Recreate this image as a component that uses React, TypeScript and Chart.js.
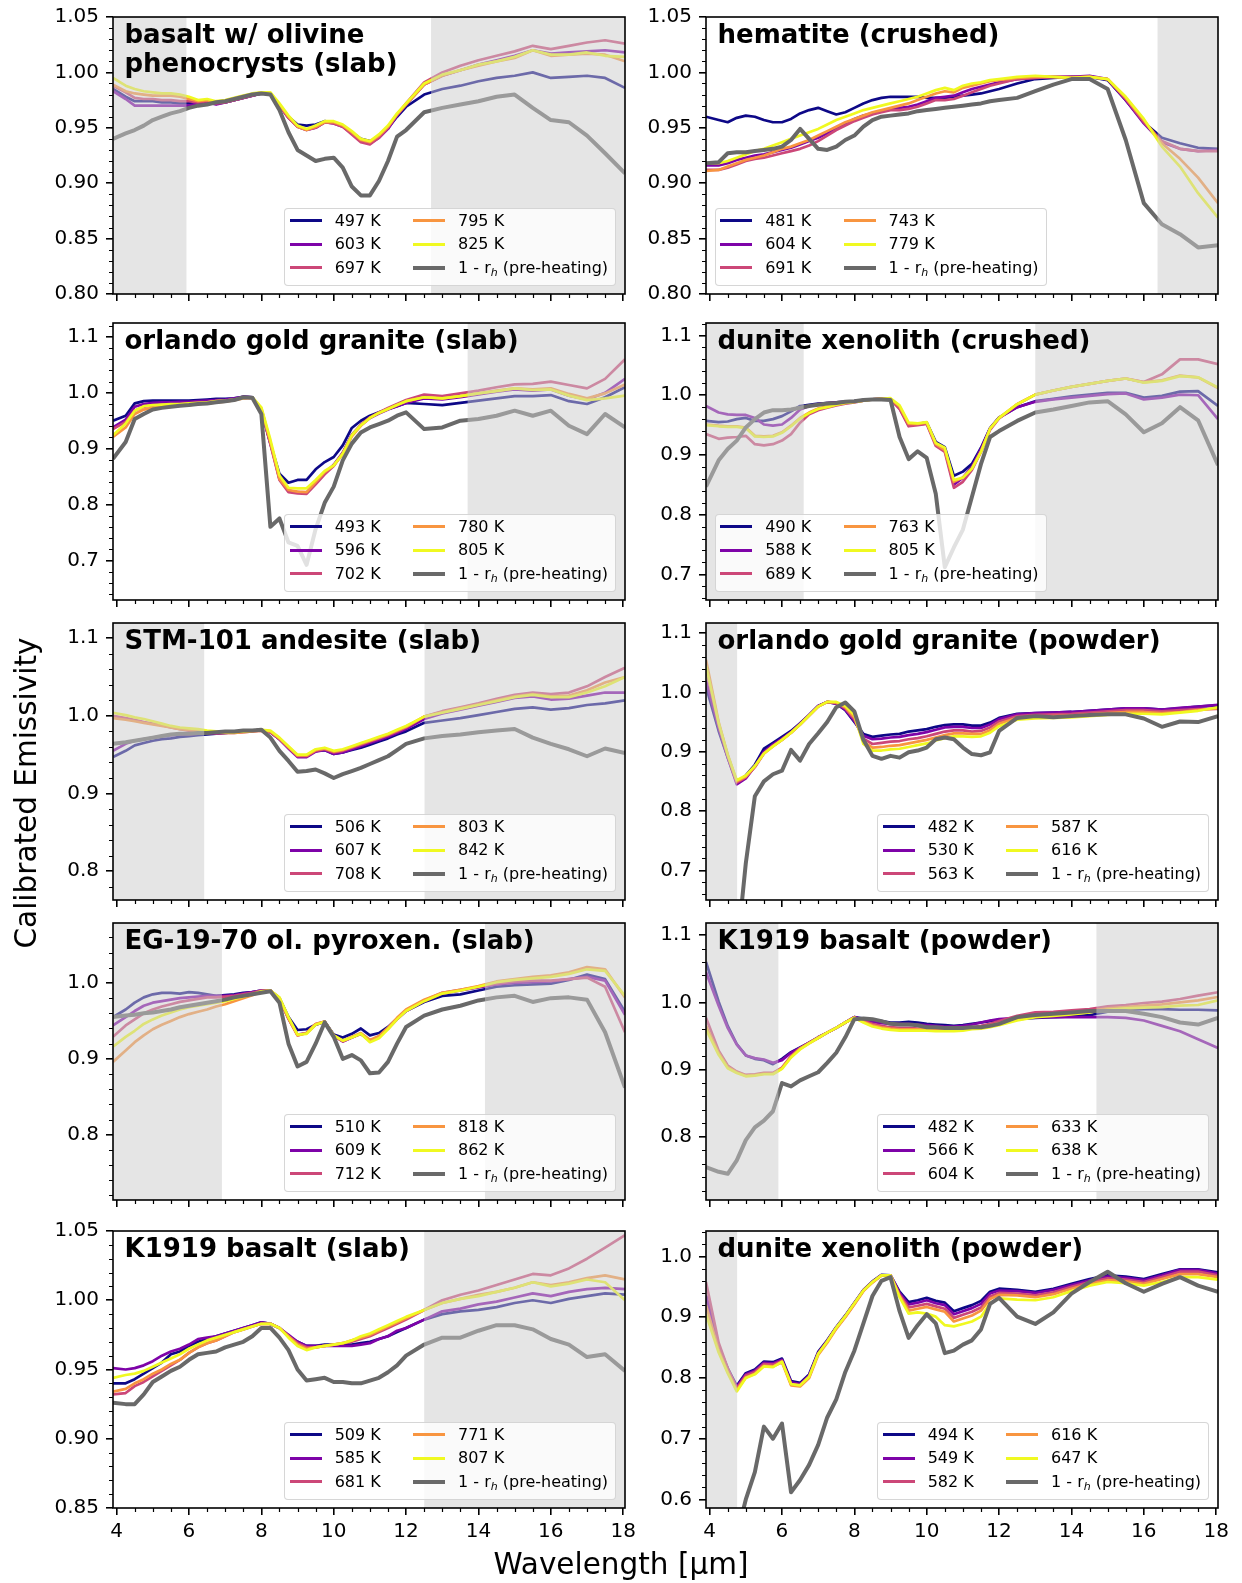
import React, { useEffect, useRef } from 'react';
import { Chart, registerables } from 'chart.js';

Chart.register(...registerables);

// ---------------- data ----------------
const WL = [
  3.9, 4.25, 4.5, 4.75, 5, 5.25, 5.5, 5.75, 6, 6.25, 6.5, 6.75,
  7, 7.25, 7.5, 7.75, 8, 8.25, 8.5, 8.75, 9, 9.25, 9.5, 9.75,
  10, 10.25, 10.5, 10.75, 11, 11.25, 11.5, 11.75, 12,
  12.5, 13, 13.5, 14, 14.5, 15, 15.5, 16, 16.5, 17, 17.5, 18.05,
];

const X_TICKS = [4, 6, 8, 10, 12, 14, 16, 18];
const Y_MAJOR_FINE = [0.8, 0.85, 0.9, 0.95, 1.0, 1.05];
const Y_MAJOR_COARSE = [0.6, 0.7, 0.8, 0.9, 1.0, 1.1];

// Panel 1: basalt w/ olivine phenocrysts (slab)
const BOL_TEMPS = ['497 K', '603 K', '697 K', '795 K', '825 K'];
const BOL_497 = [
  0.985, 0.978, 0.974, 0.974, 0.974, 0.973, 0.973, 0.972, 0.972, 0.973, 0.974, 0.972,
  0.973, 0.975, 0.977, 0.979, 0.981, 0.981, 0.970, 0.960, 0.953, 0.952, 0.953, 0.956,
  0.955, 0.952, 0.946, 0.940, 0.938, 0.942, 0.950, 0.960, 0.969,
  0.980, 0.985, 0.988, 0.992, 0.995, 0.997, 1.000, 0.995, 0.996, 0.997, 0.995, 0.986,
];
const BOL_603 = [
  0.983, 0.976, 0.970, 0.970, 0.970, 0.970, 0.970, 0.970, 0.970, 0.972, 0.973, 0.971,
  0.973, 0.975, 0.977, 0.979, 0.981, 0.981, 0.970, 0.959, 0.951, 0.948, 0.950, 0.955,
  0.954, 0.951, 0.945, 0.938, 0.936, 0.941, 0.949, 0.961, 0.971,
  0.989, 0.997, 1.002, 1.007, 1.011, 1.015, 1.020, 1.017, 1.018, 1.019, 1.020, 1.018,
];
const BOL_697 = [
  0.988, 0.982, 0.977, 0.976, 0.976, 0.975, 0.975, 0.974, 0.974, 0.973, 0.974, 0.972,
  0.973, 0.975, 0.977, 0.979, 0.981, 0.981, 0.970, 0.959, 0.951, 0.948, 0.950, 0.955,
  0.954, 0.951, 0.944, 0.937, 0.935, 0.941, 0.950, 0.962, 0.972,
  0.991, 1.000, 1.006, 1.011, 1.015, 1.019, 1.024, 1.021, 1.024, 1.027, 1.029, 1.026,
];
const BOL_795 = [
  0.989, 0.983, 0.981, 0.980, 0.979, 0.979, 0.979, 0.978, 0.976, 0.974, 0.975, 0.973,
  0.974, 0.976, 0.978, 0.980, 0.982, 0.981, 0.971, 0.960, 0.951, 0.948, 0.951, 0.955,
  0.955, 0.952, 0.946, 0.939, 0.937, 0.943, 0.951, 0.962, 0.971,
  0.989, 0.997, 1.002, 1.006, 1.010, 1.013, 1.020, 1.015, 1.016, 1.017, 1.016, 1.010,
];
const BOL_825 = [
  0.995, 0.988, 0.985, 0.983, 0.982, 0.981, 0.981, 0.980, 0.978, 0.975, 0.976, 0.974,
  0.975, 0.977, 0.979, 0.981, 0.982, 0.982, 0.972, 0.961, 0.952, 0.949, 0.952, 0.956,
  0.956, 0.953, 0.947, 0.940, 0.938, 0.944, 0.952, 0.963, 0.972,
  0.990, 0.998, 1.002, 1.007, 1.010, 1.014, 1.020, 1.016, 1.016, 1.018, 1.015, 1.014,
];
const BOL_GRAY = [
  0.940, 0.945, 0.948, 0.952, 0.957, 0.960, 0.963, 0.965, 0.968, 0.970, 0.971, 0.973,
  0.974, 0.976, 0.978, 0.980, 0.981, 0.980, 0.966, 0.946, 0.930, 0.925, 0.920, 0.922,
  0.923, 0.914, 0.897, 0.889, 0.889, 0.902, 0.920, 0.942, 0.948,
  0.964, 0.968, 0.971, 0.974, 0.978, 0.980, 0.968, 0.957, 0.955, 0.943, 0.927, 0.909,
];

// Panel 2: hematite (crushed)
const HEM_TEMPS = ['481 K', '604 K', '691 K', '743 K', '779 K'];
const HEM_481 = [
  0.960, 0.957, 0.955, 0.959, 0.961, 0.960, 0.957, 0.955, 0.955, 0.958, 0.963, 0.966,
  0.968, 0.965, 0.962, 0.964, 0.968, 0.972, 0.975, 0.977, 0.978, 0.978, 0.978, 0.978,
  0.977, 0.977, 0.977, 0.978, 0.979, 0.980, 0.981, 0.983, 0.985,
  0.990, 0.994, 0.995, 0.996, 0.996, 0.993, 0.975, 0.955, 0.941, 0.936, 0.932, 0.931,
];
const HEM_604 = [
  0.916, 0.916, 0.918, 0.921, 0.923, 0.925, 0.926, 0.928, 0.930, 0.932, 0.935, 0.938,
  0.941, 0.945, 0.950, 0.954, 0.958, 0.961, 0.963, 0.965, 0.967, 0.968, 0.969, 0.971,
  0.974, 0.977, 0.978, 0.979, 0.982, 0.985, 0.987, 0.989, 0.991,
  0.994, 0.995, 0.996, 0.996, 0.997, 0.994, 0.975, 0.954, 0.937, 0.931, 0.929, 0.930,
];
const HEM_691 = [
  0.912, 0.912, 0.914, 0.917, 0.920, 0.922, 0.923, 0.925, 0.927, 0.929, 0.931, 0.934,
  0.938, 0.943, 0.948, 0.952, 0.956, 0.959, 0.962, 0.964, 0.966, 0.966, 0.967, 0.969,
  0.972, 0.975, 0.975, 0.976, 0.979, 0.982, 0.985, 0.988, 0.990,
  0.994, 0.995, 0.996, 0.996, 0.996, 0.994, 0.976, 0.955, 0.938, 0.931, 0.929, 0.929,
];
const HEM_743 = [
  0.911, 0.912, 0.915, 0.918, 0.921, 0.923, 0.925, 0.928, 0.931, 0.933, 0.936, 0.939,
  0.943, 0.947, 0.951, 0.955, 0.958, 0.961, 0.964, 0.966, 0.968, 0.970, 0.972, 0.975,
  0.978, 0.981, 0.983, 0.982, 0.986, 0.988, 0.990, 0.992, 0.993,
  0.995, 0.996, 0.996, 0.995, 0.996, 0.994, 0.977, 0.957, 0.936, 0.922, 0.905, 0.882,
];
const HEM_779 = [
  0.918, 0.918, 0.920, 0.923, 0.926, 0.929, 0.931, 0.934, 0.937, 0.940, 0.943, 0.946,
  0.949, 0.953, 0.957, 0.960, 0.963, 0.966, 0.968, 0.970, 0.972, 0.974, 0.976, 0.978,
  0.981, 0.984, 0.986, 0.984, 0.988, 0.990, 0.991, 0.993, 0.994,
  0.996, 0.997, 0.996, 0.995, 0.996, 0.994, 0.978, 0.958, 0.933, 0.915, 0.891, 0.869,
];
const HEM_GRAY = [
  0.918, 0.919, 0.927, 0.928, 0.928, 0.929, 0.930, 0.931, 0.933, 0.939, 0.949, 0.940,
  0.931, 0.930, 0.933, 0.939, 0.943, 0.951, 0.957, 0.960, 0.961, 0.962, 0.963, 0.965,
  0.966, 0.967, 0.968, 0.969, 0.970, 0.971, 0.972, 0.974, 0.975,
  0.977, 0.983, 0.989, 0.994, 0.994, 0.985, 0.939, 0.882, 0.863, 0.854, 0.842, 0.844,
];

// Panel 3: orlando gold granite (slab)
const OGS_TEMPS = ['493 K', '596 K', '702 K', '780 K', '805 K'];
const OGS_493 = [
  0.950, 0.959, 0.981, 0.985, 0.986, 0.986, 0.986, 0.986, 0.986, 0.987, 0.988, 0.989,
  0.989, 0.990, 0.993, 0.992, 0.968, 0.909, 0.855, 0.839, 0.844, 0.844, 0.863, 0.876,
  0.885, 0.906, 0.937, 0.950, 0.959, 0.965, 0.971, 0.976, 0.982,
  0.980, 0.978, 0.982, 0.986, 0.990, 0.994, 0.994, 0.996, 0.985, 0.980, 0.992, 1.010,
];
const OGS_596 = [
  0.938, 0.952, 0.975, 0.980, 0.982, 0.983, 0.983, 0.984, 0.984, 0.985, 0.986, 0.987,
  0.988, 0.990, 0.993, 0.992, 0.970, 0.910, 0.846, 0.825, 0.822, 0.821, 0.838, 0.856,
  0.871, 0.893, 0.925, 0.942, 0.955, 0.963, 0.970, 0.976, 0.982,
  0.990, 0.988, 0.992, 0.997, 1.002, 1.006, 1.004, 1.006, 0.995, 0.988, 1.000, 1.025,
];
const OGS_702 = [
  0.935, 0.948, 0.968, 0.975, 0.977, 0.978, 0.979, 0.980, 0.981, 0.982, 0.983, 0.985,
  0.986, 0.988, 0.991, 0.991, 0.970, 0.908, 0.844, 0.822, 0.820, 0.819, 0.836, 0.854,
  0.869, 0.892, 0.924, 0.943, 0.956, 0.965, 0.973, 0.980, 0.987,
  0.997, 0.994, 0.999, 1.004, 1.010, 1.015, 1.016, 1.020, 1.014, 1.008, 1.025, 1.060,
];
const OGS_780 = [
  0.921, 0.938, 0.962, 0.970, 0.973, 0.975, 0.976, 0.977, 0.978, 0.980, 0.981, 0.983,
  0.984, 0.987, 0.990, 0.991, 0.972, 0.912, 0.846, 0.826, 0.823, 0.822, 0.840, 0.858,
  0.870, 0.890, 0.922, 0.941, 0.955, 0.964, 0.971, 0.978, 0.985,
  0.992, 0.990, 0.994, 0.999, 1.004, 1.008, 1.006, 1.008, 0.998, 0.990, 0.999, 1.015,
];
const OGS_805 = [
  0.924, 0.945, 0.968, 0.976, 0.978, 0.979, 0.980, 0.980, 0.981, 0.982, 0.983, 0.985,
  0.986, 0.988, 0.991, 0.992, 0.974, 0.916, 0.852, 0.830, 0.829, 0.829, 0.844, 0.860,
  0.870, 0.891, 0.924, 0.942, 0.955, 0.964, 0.971, 0.978, 0.985,
  0.992, 0.990, 0.994, 0.999, 1.003, 1.008, 1.005, 1.006, 0.995, 0.987, 0.990, 0.995,
];
const OGS_GRAY = [
  0.882, 0.912, 0.953, 0.962, 0.970, 0.973, 0.975, 0.977, 0.978, 0.980, 0.981, 0.983,
  0.985, 0.987, 0.992, 0.991, 0.962, 0.760, 0.775, 0.732, 0.726, 0.692, 0.756, 0.803,
  0.832, 0.879, 0.909, 0.929, 0.938, 0.944, 0.950, 0.959, 0.965,
  0.935, 0.938, 0.950, 0.953, 0.959, 0.968, 0.959, 0.968, 0.941, 0.926, 0.962, 0.938,
];

// Panel 4: dunite xenolith (crushed)
const DXC_TEMPS = ['490 K', '588 K', '689 K', '763 K', '805 K'];
const DXC_490 = [
  0.957, 0.955, 0.956, 0.960, 0.962, 0.957, 0.957, 0.960, 0.965, 0.973, 0.982, 0.984,
  0.986, 0.987, 0.988, 0.989, 0.990, 0.992, 0.993, 0.994, 0.993, 0.979, 0.951, 0.952,
  0.954, 0.922, 0.913, 0.865, 0.872, 0.885, 0.912, 0.945, 0.963,
  0.980, 0.990, 0.994, 0.998, 1.001, 1.004, 1.004, 0.996, 0.999, 1.006, 1.007, 0.982,
];
const DXC_588 = [
  0.982, 0.971, 0.968, 0.967, 0.967, 0.962, 0.951, 0.949, 0.951, 0.962, 0.976, 0.982,
  0.985, 0.987, 0.988, 0.989, 0.990, 0.992, 0.993, 0.994, 0.993, 0.978, 0.950, 0.951,
  0.953, 0.918, 0.908, 0.850, 0.862, 0.880, 0.910, 0.944, 0.962,
  0.980, 0.989, 0.993, 0.996, 0.999, 1.002, 1.003, 0.993, 0.996, 1.001, 1.000, 0.960,
];
const DXC_689 = [
  0.935, 0.927, 0.929, 0.930, 0.932, 0.918, 0.916, 0.918, 0.924, 0.935, 0.954, 0.968,
  0.975, 0.979, 0.983, 0.986, 0.988, 0.991, 0.993, 0.994, 0.993, 0.977, 0.948, 0.950,
  0.952, 0.915, 0.905, 0.845, 0.855, 0.875, 0.905, 0.942, 0.961,
  0.985, 1.001, 1.008, 1.014, 1.019, 1.024, 1.028, 1.022, 1.035, 1.060, 1.060, 1.052,
];
const DXC_763 = [
  0.951, 0.949, 0.948, 0.948, 0.946, 0.932, 0.931, 0.932, 0.938, 0.949, 0.962, 0.971,
  0.978, 0.981, 0.984, 0.987, 0.989, 0.991, 0.993, 0.994, 0.994, 0.981, 0.952, 0.952,
  0.954, 0.918, 0.908, 0.855, 0.862, 0.878, 0.906, 0.944, 0.962,
  0.985, 1.001, 1.008, 1.014, 1.019, 1.024, 1.028, 1.022, 1.025, 1.033, 1.030, 1.012,
];
const DXC_805 = [
  0.950, 0.948, 0.947, 0.947, 0.945, 0.931, 0.930, 0.931, 0.937, 0.948, 0.961, 0.970,
  0.977, 0.980, 0.984, 0.987, 0.989, 0.991, 0.993, 0.994, 0.995, 0.983, 0.954, 0.953,
  0.955, 0.920, 0.912, 0.858, 0.862, 0.877, 0.905, 0.944, 0.962,
  0.985, 1.001, 1.008, 1.014, 1.019, 1.024, 1.028, 1.021, 1.024, 1.032, 1.030, 1.013,
];
const DXC_GRAY = [
  0.847, 0.891, 0.910, 0.924, 0.946, 0.960, 0.971, 0.975, 0.975, 0.976, 0.979, 0.982,
  0.984, 0.986, 0.987, 0.989, 0.990, 0.992, 0.993, 0.993, 0.992, 0.930, 0.893, 0.906,
  0.895, 0.835, 0.712, 0.745, 0.775, 0.830, 0.885, 0.930, 0.940,
  0.957, 0.971, 0.976, 0.982, 0.988, 0.990, 0.968, 0.938, 0.953, 0.980, 0.958, 0.883,
];

// Panel 5: STM-101 andesite (slab)
const STM_TEMPS = ['506 K', '607 K', '708 K', '803 K', '842 K'];
const STM_506 = [
  0.947, 0.955, 0.962, 0.965, 0.968, 0.970, 0.971, 0.973, 0.974, 0.975, 0.976, 0.977,
  0.978, 0.979, 0.980, 0.981, 0.982, 0.979, 0.970, 0.959, 0.949, 0.949, 0.955, 0.956,
  0.951, 0.953, 0.956, 0.959, 0.963, 0.967, 0.971, 0.976, 0.980,
  0.991, 0.994, 0.997, 1.001, 1.005, 1.009, 1.011, 1.008, 1.010, 1.014, 1.016, 1.020,
];
const STM_607 = [
  0.955, 0.964, 0.968, 0.970, 0.972, 0.974, 0.975, 0.976, 0.976, 0.977, 0.977, 0.977,
  0.978, 0.979, 0.980, 0.981, 0.982, 0.979, 0.970, 0.958, 0.947, 0.947, 0.954, 0.956,
  0.951, 0.953, 0.957, 0.961, 0.965, 0.969, 0.973, 0.978, 0.983,
  0.996, 1.003, 1.008, 1.013, 1.018, 1.023, 1.025, 1.021, 1.022, 1.026, 1.030, 1.030,
];
const STM_708 = [
  1.000, 0.997, 0.995, 0.992, 0.990, 0.988, 0.985, 0.983, 0.981, 0.980, 0.979, 0.978,
  0.978, 0.978, 0.979, 0.980, 0.981, 0.979, 0.970, 0.959, 0.948, 0.948, 0.955, 0.957,
  0.953, 0.955, 0.959, 0.963, 0.967, 0.971, 0.975, 0.980, 0.985,
  0.999, 1.006, 1.011, 1.016, 1.022, 1.027, 1.030, 1.028, 1.030, 1.038, 1.050, 1.062,
];
const STM_803 = [
  0.997, 0.995, 0.993, 0.991, 0.989, 0.987, 0.985, 0.983, 0.982, 0.980, 0.979, 0.978,
  0.978, 0.978, 0.979, 0.980, 0.981, 0.980, 0.971, 0.960, 0.949, 0.949, 0.956, 0.958,
  0.954, 0.956, 0.960, 0.964, 0.968, 0.972, 0.976, 0.981, 0.986,
  0.999, 1.005, 1.010, 1.015, 1.020, 1.025, 1.028, 1.025, 1.026, 1.033, 1.043, 1.050,
];
const STM_842 = [
  1.004, 1.001, 0.998, 0.996, 0.993, 0.990, 0.987, 0.985, 0.984, 0.983, 0.981, 0.980,
  0.979, 0.979, 0.980, 0.981, 0.982, 0.981, 0.972, 0.961, 0.950, 0.950, 0.957, 0.959,
  0.955, 0.957, 0.961, 0.965, 0.969, 0.973, 0.977, 0.982, 0.987,
  0.999, 1.004, 1.009, 1.014, 1.019, 1.024, 1.027, 1.024, 1.024, 1.030, 1.038, 1.050,
];
const STM_GRAY = [
  0.964, 0.966, 0.968, 0.970, 0.972, 0.974, 0.976, 0.977, 0.977, 0.978, 0.978, 0.979,
  0.980, 0.980, 0.981, 0.981, 0.982, 0.972, 0.955, 0.942, 0.928, 0.929, 0.931, 0.926,
  0.920, 0.925, 0.929, 0.933, 0.938, 0.943, 0.948, 0.956, 0.964,
  0.971, 0.974, 0.976, 0.979, 0.981, 0.983, 0.972, 0.964, 0.957, 0.948, 0.958, 0.952,
];

// Panel 6: orlando gold granite (powder)
const OGP_TEMPS = ['482 K', '530 K', '563 K', '587 K', '616 K'];
const OGP_482 = [
  1.010, 0.935, 0.890, 0.848, 0.860, 0.878, 0.905, 0.915, 0.925, 0.935, 0.948, 0.962,
  0.977, 0.984, 0.981, 0.970, 0.950, 0.930, 0.925, 0.927, 0.929, 0.930, 0.934, 0.936,
  0.938, 0.942, 0.945, 0.946, 0.946, 0.944, 0.944, 0.949, 0.957,
  0.964, 0.965, 0.966, 0.967, 0.969, 0.971, 0.973, 0.973, 0.971, 0.973, 0.976, 0.978,
];
const OGP_530 = [
  1.020, 0.940, 0.890, 0.845, 0.855, 0.875, 0.900, 0.912, 0.922, 0.933, 0.947, 0.962,
  0.977, 0.984, 0.981, 0.971, 0.952, 0.927, 0.921, 0.922, 0.924, 0.925, 0.928, 0.930,
  0.933, 0.937, 0.941, 0.942, 0.942, 0.940, 0.940, 0.946, 0.955,
  0.963, 0.965, 0.966, 0.967, 0.969, 0.971, 0.973, 0.973, 0.971, 0.974, 0.976, 0.979,
];
const OGP_563 = [
  1.040, 0.945, 0.893, 0.848, 0.857, 0.874, 0.897, 0.910, 0.920, 0.932, 0.946, 0.961,
  0.976, 0.984, 0.982, 0.973, 0.955, 0.922, 0.913, 0.915, 0.917, 0.918, 0.921, 0.923,
  0.926, 0.930, 0.934, 0.936, 0.936, 0.934, 0.935, 0.941, 0.951,
  0.960, 0.962, 0.963, 0.964, 0.966, 0.968, 0.970, 0.970, 0.968, 0.970, 0.972, 0.972,
];
const OGP_587 = [
  1.055, 0.950, 0.895, 0.850, 0.858, 0.875, 0.897, 0.909, 0.920, 0.932, 0.946, 0.961,
  0.976, 0.984, 0.983, 0.975, 0.958, 0.917, 0.907, 0.908, 0.910, 0.911, 0.914, 0.917,
  0.920, 0.924, 0.928, 0.931, 0.931, 0.930, 0.930, 0.936, 0.947,
  0.957, 0.959, 0.960, 0.961, 0.963, 0.965, 0.967, 0.967, 0.965, 0.967, 0.970, 0.973,
];
const OGP_616 = [
  1.045, 0.948, 0.895, 0.852, 0.860, 0.876, 0.897, 0.909, 0.920, 0.932, 0.946, 0.961,
  0.976, 0.984, 0.984, 0.977, 0.962, 0.913, 0.902, 0.902, 0.904, 0.905, 0.908, 0.911,
  0.914, 0.919, 0.923, 0.926, 0.926, 0.925, 0.926, 0.932, 0.943,
  0.954, 0.956, 0.957, 0.958, 0.960, 0.962, 0.964, 0.964, 0.963, 0.966, 0.969, 0.975,
];
const OGP_GRAY = [
  0.450, 0.470, 0.500, 0.560, 0.712, 0.825, 0.850, 0.862, 0.868, 0.903, 0.885, 0.913,
  0.931, 0.950, 0.975, 0.983, 0.968, 0.920, 0.893, 0.888, 0.893, 0.890, 0.899, 0.902,
  0.907, 0.921, 0.924, 0.921, 0.907, 0.896, 0.894, 0.899, 0.935,
  0.957, 0.960, 0.958, 0.960, 0.962, 0.963, 0.963, 0.956, 0.942, 0.951, 0.950, 0.960,
];

// Panel 7: EG-19-70 ol. pyroxen. (slab)
const EG_TEMPS = ['510 K', '609 K', '712 K', '818 K', '862 K'];
const EG_510 = [
  0.955, 0.965, 0.974, 0.981, 0.985, 0.987, 0.987, 0.986, 0.988, 0.987, 0.985, 0.983,
  0.984, 0.985, 0.987, 0.988, 0.990, 0.990, 0.980, 0.955, 0.938, 0.939, 0.945, 0.949,
  0.932, 0.928, 0.933, 0.940, 0.931, 0.934, 0.942, 0.953, 0.963,
  0.975, 0.983, 0.985, 0.990, 0.995, 0.997, 0.998, 0.999, 1.004, 1.011, 1.005, 0.962,
];
const EG_609 = [
  0.944, 0.955, 0.963, 0.970, 0.974, 0.976, 0.978, 0.980, 0.981, 0.982, 0.983, 0.983,
  0.983, 0.984, 0.986, 0.988, 0.990, 0.990, 0.979, 0.953, 0.932, 0.934, 0.945, 0.949,
  0.931, 0.923, 0.928, 0.933, 0.924, 0.929, 0.940, 0.952, 0.963,
  0.976, 0.986, 0.990, 0.994, 0.998, 1.000, 1.001, 1.002, 1.005, 1.008, 1.003, 0.958,
];
const EG_712 = [
  0.929, 0.944, 0.952, 0.960, 0.965, 0.969, 0.972, 0.975, 0.977, 0.979, 0.981, 0.981,
  0.982, 0.983, 0.985, 0.987, 0.990, 0.990, 0.979, 0.953, 0.931, 0.934, 0.946, 0.949,
  0.930, 0.923, 0.928, 0.933, 0.924, 0.929, 0.940, 0.953, 0.964,
  0.977, 0.987, 0.991, 0.995, 0.999, 1.002, 1.003, 1.003, 1.005, 1.007, 0.995, 0.935,
];
const EG_818 = [
  0.896, 0.911, 0.922, 0.931, 0.939, 0.945, 0.950, 0.955, 0.959, 0.962, 0.965, 0.969,
  0.972, 0.976, 0.980, 0.984, 0.988, 0.990, 0.980, 0.953, 0.931, 0.934, 0.946, 0.949,
  0.931, 0.924, 0.929, 0.934, 0.925, 0.930, 0.941, 0.954, 0.965,
  0.978, 0.987, 0.991, 0.996, 1.002, 1.005, 1.008, 1.010, 1.014, 1.021, 1.018, 0.981,
];
const EG_862 = [
  0.916, 0.929, 0.937, 0.946, 0.952, 0.957, 0.961, 0.965, 0.968, 0.970, 0.972, 0.974,
  0.976, 0.979, 0.982, 0.985, 0.989, 0.990, 0.981, 0.955, 0.932, 0.933, 0.945, 0.949,
  0.931, 0.924, 0.928, 0.933, 0.922, 0.927, 0.939, 0.952, 0.963,
  0.976, 0.986, 0.990, 0.995, 1.001, 1.004, 1.006, 1.008, 1.012, 1.018, 1.016, 0.983,
];
const EG_GRAY = [
  0.955, 0.957, 0.958, 0.960, 0.961, 0.963, 0.965, 0.968, 0.970, 0.972, 0.974, 0.976,
  0.978, 0.981, 0.983, 0.985, 0.987, 0.989, 0.974, 0.920, 0.890, 0.896, 0.920, 0.948,
  0.929, 0.900, 0.905, 0.898, 0.881, 0.882, 0.896, 0.920, 0.942,
  0.957, 0.965, 0.970, 0.977, 0.981, 0.983, 0.975, 0.980, 0.981, 0.978, 0.935, 0.862,
];

// Panel 8: K1919 basalt (powder)
const KBP_TEMPS = ['482 K', '566 K', '604 K', '633 K', '638 K'];
const KBP_482 = [
  1.060, 1.001, 0.965, 0.938, 0.921, 0.916, 0.914, 0.908, 0.916, 0.926, 0.933, 0.940,
  0.948, 0.955, 0.962, 0.970, 0.978, 0.976, 0.974, 0.972, 0.970, 0.970, 0.971, 0.970,
  0.968, 0.967, 0.966, 0.965, 0.966, 0.968, 0.970, 0.972, 0.974,
  0.975, 0.977, 0.978, 0.979, 0.981, 0.986, 0.989, 0.990, 0.990, 0.989, 0.989, 0.988,
];
const KBP_566 = [
  1.045, 0.995, 0.962, 0.937, 0.921, 0.917, 0.915, 0.910, 0.914, 0.925, 0.932, 0.940,
  0.947, 0.955, 0.962, 0.970, 0.978, 0.974, 0.971, 0.969, 0.968, 0.968, 0.968, 0.967,
  0.966, 0.965, 0.964, 0.964, 0.965, 0.967, 0.970, 0.973, 0.975,
  0.977, 0.978, 0.978, 0.978, 0.978, 0.978, 0.977, 0.973, 0.965, 0.957, 0.945, 0.932,
];
const KBP_604 = [
  0.977, 0.928, 0.906, 0.897, 0.892, 0.893, 0.895, 0.895, 0.903, 0.920, 0.932, 0.940,
  0.948, 0.955, 0.962, 0.970, 0.978, 0.972, 0.968, 0.965, 0.963, 0.962, 0.962, 0.961,
  0.961, 0.960, 0.960, 0.960, 0.961, 0.963, 0.965, 0.968, 0.972,
  0.980, 0.985, 0.986, 0.988, 0.990, 0.994, 0.996, 0.999, 1.001, 1.005, 1.010, 1.015,
];
const KBP_633 = [
  0.965, 0.925, 0.904, 0.896, 0.891, 0.892, 0.894, 0.894, 0.902, 0.919, 0.931, 0.939,
  0.947, 0.955, 0.962, 0.970, 0.977, 0.971, 0.966, 0.963, 0.961, 0.960, 0.960, 0.960,
  0.960, 0.959, 0.959, 0.959, 0.960, 0.962, 0.963, 0.966, 0.969,
  0.976, 0.981, 0.983, 0.985, 0.987, 0.991, 0.993, 0.995, 0.997, 1.000, 1.003, 1.008,
];
const KBP_638 = [
  0.960, 0.922, 0.902, 0.895, 0.890, 0.891, 0.893, 0.893, 0.901, 0.918, 0.930, 0.939,
  0.947, 0.955, 0.962, 0.970, 0.977, 0.970, 0.964, 0.961, 0.959, 0.958, 0.958, 0.958,
  0.958, 0.957, 0.957, 0.957, 0.958, 0.960, 0.961, 0.963, 0.966,
  0.973, 0.978, 0.980, 0.982, 0.985, 0.989, 0.991, 0.992, 0.993, 0.995, 0.996, 1.003,
];
const KBP_GRAY = [
  0.755, 0.748, 0.745, 0.765, 0.795, 0.814, 0.824, 0.838, 0.880, 0.875, 0.884, 0.890,
  0.896, 0.910, 0.925, 0.948, 0.975, 0.976, 0.975, 0.972, 0.968, 0.967, 0.967, 0.966,
  0.963, 0.963, 0.962, 0.962, 0.962, 0.963, 0.963, 0.965, 0.968,
  0.978, 0.981, 0.983, 0.985, 0.987, 0.987, 0.987, 0.983, 0.978, 0.970, 0.967, 0.977,
];

// Panel 9: K1919 basalt (slab)
const KBS_TEMPS = ['509 K', '585 K', '681 K', '771 K', '807 K'];
const KBS_509 = [
  0.940, 0.940, 0.943, 0.947, 0.951, 0.955, 0.961, 0.963, 0.967, 0.970, 0.972, 0.974,
  0.976, 0.978, 0.980, 0.982, 0.984, 0.983, 0.980, 0.974, 0.970, 0.967, 0.967, 0.968,
  0.968, 0.968, 0.968, 0.969, 0.970, 0.972, 0.974, 0.977, 0.980,
  0.986, 0.990, 0.992, 0.993, 0.995, 0.998, 1.000, 0.998, 1.001, 1.003, 1.005, 1.004,
];
const KBS_585 = [
  0.951, 0.950, 0.951, 0.953, 0.956, 0.960, 0.963, 0.965, 0.968, 0.972, 0.973, 0.974,
  0.976, 0.978, 0.980, 0.982, 0.984, 0.983, 0.980, 0.975, 0.970, 0.967, 0.967, 0.967,
  0.967, 0.967, 0.967, 0.968, 0.969, 0.972, 0.974, 0.978, 0.980,
  0.986, 0.992, 0.994, 0.997, 0.999, 1.002, 1.005, 1.003, 1.006, 1.008, 1.009, 1.008,
];
const KBS_681 = [
  0.932, 0.933, 0.938, 0.941, 0.945, 0.949, 0.953, 0.957, 0.962, 0.966, 0.969, 0.971,
  0.974, 0.977, 0.979, 0.981, 0.983, 0.983, 0.980, 0.974, 0.969, 0.966, 0.966, 0.967,
  0.968, 0.969, 0.970, 0.972, 0.974, 0.977, 0.980, 0.983, 0.986,
  0.993, 1.000, 1.004, 1.007, 1.011, 1.015, 1.019, 1.018, 1.023, 1.030, 1.038, 1.047,
];
const KBS_771 = [
  0.934, 0.936, 0.940, 0.943, 0.947, 0.950, 0.954, 0.957, 0.962, 0.966, 0.969, 0.971,
  0.974, 0.977, 0.979, 0.981, 0.983, 0.983, 0.980, 0.974, 0.968, 0.965, 0.966, 0.967,
  0.968, 0.969, 0.971, 0.973, 0.975, 0.978, 0.981, 0.984, 0.987,
  0.993, 0.998, 1.001, 1.004, 1.006, 1.009, 1.013, 1.011, 1.013, 1.016, 1.018, 1.015,
];
const KBS_807 = [
  0.944, 0.946, 0.947, 0.949, 0.952, 0.955, 0.958, 0.961, 0.965, 0.968, 0.971, 0.973,
  0.975, 0.977, 0.979, 0.981, 0.983, 0.983, 0.980, 0.973, 0.967, 0.964, 0.966, 0.967,
  0.968, 0.969, 0.971, 0.974, 0.976, 0.979, 0.982, 0.985, 0.988,
  0.993, 0.998, 1.001, 1.003, 1.006, 1.009, 1.013, 1.010, 1.012, 1.015, 1.013, 1.000,
];
const KBS_GRAY = [
  0.926, 0.925, 0.925, 0.932, 0.941, 0.945, 0.949, 0.952, 0.957, 0.961, 0.962, 0.963,
  0.966, 0.968, 0.970, 0.974, 0.980, 0.980, 0.973, 0.964, 0.950, 0.942, 0.943, 0.944,
  0.941, 0.941, 0.940, 0.940, 0.942, 0.944, 0.948, 0.953, 0.960,
  0.968, 0.973, 0.973, 0.978, 0.982, 0.982, 0.979, 0.972, 0.968, 0.959, 0.961, 0.949,
];

// Panel 10: dunite xenolith (powder)
const DXP_TEMPS = ['494 K', '549 K', '582 K', '616 K', '647 K'];
const DXP_494 = [
  0.935, 0.852, 0.816, 0.787, 0.808, 0.814, 0.827, 0.826, 0.832, 0.795, 0.792, 0.806,
  0.843, 0.862, 0.884, 0.903, 0.924, 0.945, 0.959, 0.970, 0.969, 0.942, 0.925, 0.928,
  0.932, 0.927, 0.924, 0.910, 0.915, 0.920, 0.927, 0.942, 0.947,
  0.945, 0.942, 0.947, 0.955, 0.963, 0.969, 0.967, 0.963, 0.971, 0.979, 0.979, 0.974,
];
const DXP_549 = [
  0.936, 0.853, 0.815, 0.785, 0.806, 0.812, 0.825, 0.824, 0.830, 0.793, 0.790, 0.804,
  0.841, 0.861, 0.883, 0.902, 0.923, 0.944, 0.958, 0.969, 0.969, 0.940, 0.921, 0.924,
  0.928, 0.923, 0.920, 0.905, 0.910, 0.915, 0.922, 0.939, 0.944,
  0.943, 0.940, 0.945, 0.953, 0.961, 0.967, 0.965, 0.961, 0.969, 0.978, 0.978, 0.972,
];
const DXP_582 = [
  0.958, 0.858, 0.816, 0.783, 0.804, 0.810, 0.823, 0.822, 0.828, 0.790, 0.788, 0.802,
  0.840, 0.860, 0.882, 0.901, 0.922, 0.944, 0.958, 0.969, 0.969, 0.937, 0.916, 0.919,
  0.922, 0.918, 0.914, 0.899, 0.904, 0.909, 0.916, 0.934, 0.940,
  0.939, 0.936, 0.941, 0.950, 0.958, 0.964, 0.962, 0.958, 0.966, 0.975, 0.975, 0.969,
];
const DXP_616 = [
  0.920, 0.846, 0.810, 0.780, 0.801, 0.807, 0.820, 0.819, 0.826, 0.788, 0.786, 0.800,
  0.838, 0.858, 0.881, 0.900, 0.921, 0.943, 0.957, 0.969, 0.969, 0.935, 0.911, 0.914,
  0.917, 0.913, 0.909, 0.893, 0.898, 0.903, 0.911, 0.930, 0.937,
  0.936, 0.933, 0.938, 0.947, 0.955, 0.961, 0.959, 0.955, 0.963, 0.971, 0.971, 0.966,
];
const DXP_647 = [
  0.905, 0.842, 0.808, 0.778, 0.800, 0.806, 0.819, 0.818, 0.827, 0.790, 0.788, 0.802,
  0.840, 0.860, 0.883, 0.902, 0.923, 0.944, 0.958, 0.969, 0.969, 0.933, 0.906, 0.908,
  0.906, 0.901, 0.887, 0.885, 0.889, 0.893, 0.901, 0.923, 0.931,
  0.929, 0.928, 0.933, 0.943, 0.952, 0.958, 0.956, 0.952, 0.958, 0.966, 0.966, 0.962,
];
const DXP_GRAY = [
  0.450, 0.470, 0.500, 0.540, 0.600, 0.645, 0.720, 0.700, 0.725, 0.612, 0.632, 0.657,
  0.690, 0.735, 0.765, 0.810, 0.845, 0.890, 0.935, 0.960, 0.966, 0.910, 0.866, 0.887,
  0.905, 0.890, 0.841, 0.845, 0.855, 0.862, 0.880, 0.922, 0.932,
  0.901, 0.889, 0.908, 0.939, 0.958, 0.975, 0.956, 0.942, 0.955, 0.966, 0.952, 0.942,
];

// ---------------- styling ----------------
const FONT = "'DejaVu Sans', 'Liberation Sans', sans-serif";
const COLORS = ['#0d0887', '#7e03a8', '#cc4778', '#f89540', '#f0f921'];
const GRAY = '#696969';
const LW = 2.7;
const LW_GRAY = 4.0;
const SHADE = 'rgba(204,204,204,0.5)';

const COL_LEFT = [113, 706];
const ROW_TOP = [13, 319, 619, 919, 1227];
const PLOT_W = 512;
const PLOT_H = 281;
const Y_AXIS_W = 75;
const PAD_T = 15;
const PAD_R = 18;
const X_AXIS_H = 48;
const X_MIN = 3.9;
const X_MAX = 18.05;

type PanelDef = {
  title: string;
  temps: string[];
  series: number[][];
  gray: number[];
  yMin: number;
  yMax: number;
  yMajor: number[];
  yMinorStep: number;
  yDec: number;
  shades: number[][];
  legendLeft: boolean;
  col: number;
  row: number;
};

const PANELS: PanelDef[] = [
  { title: 'basalt w/ olivine\nphenocrysts (slab)', temps: BOL_TEMPS, series: [BOL_497, BOL_603, BOL_697, BOL_795, BOL_825], gray: BOL_GRAY,
    yMin: 0.8, yMax: 1.05, yMajor: Y_MAJOR_FINE, yMinorStep: 0.01, yDec: 2, shades: [[3.9, 5.93], [12.69, 18.1]], legendLeft: false, col: 0, row: 0 },
  { title: 'hematite (crushed)', temps: HEM_TEMPS, series: [HEM_481, HEM_604, HEM_691, HEM_743, HEM_779], gray: HEM_GRAY,
    yMin: 0.8, yMax: 1.05, yMajor: Y_MAJOR_FINE, yMinorStep: 0.01, yDec: 2, shades: [[16.38, 18.1]], legendLeft: true, col: 1, row: 0 },
  { title: 'orlando gold granite (slab)', temps: OGS_TEMPS, series: [OGS_493, OGS_596, OGS_702, OGS_780, OGS_805], gray: OGS_GRAY,
    yMin: 0.629, yMax: 1.125, yMajor: Y_MAJOR_COARSE, yMinorStep: 0.02, yDec: 1, shades: [[13.7, 18.1]], legendLeft: false, col: 0, row: 1 },
  { title: 'dunite xenolith (crushed)', temps: DXC_TEMPS, series: [DXC_490, DXC_588, DXC_689, DXC_763, DXC_805], gray: DXC_GRAY,
    yMin: 0.657, yMax: 1.121, yMajor: Y_MAJOR_COARSE, yMinorStep: 0.02, yDec: 1, shades: [[3.9, 6.6], [13.0, 18.1]], legendLeft: true, col: 1, row: 1 },
  { title: 'STM-101 andesite (slab)', temps: STM_TEMPS, series: [STM_506, STM_607, STM_708, STM_803, STM_842], gray: STM_GRAY,
    yMin: 0.763, yMax: 1.1195, yMajor: Y_MAJOR_COARSE, yMinorStep: 0.02, yDec: 1, shades: [[3.9, 6.42], [12.51, 18.1]], legendLeft: false, col: 0, row: 2 },
  { title: 'orlando gold granite (powder)', temps: OGP_TEMPS, series: [OGP_482, OGP_530, OGP_563, OGP_587, OGP_616], gray: OGP_GRAY,
    yMin: 0.65, yMax: 1.117, yMajor: Y_MAJOR_COARSE, yMinorStep: 0.02, yDec: 1, shades: [[3.9, 4.76]], legendLeft: false, col: 1, row: 2 },
  { title: 'EG-19-70 ol. pyroxen. (slab)', temps: EG_TEMPS, series: [EG_510, EG_609, EG_712, EG_818, EG_862], gray: EG_GRAY,
    yMin: 0.714, yMax: 1.079, yMajor: Y_MAJOR_COARSE, yMinorStep: 0.02, yDec: 1, shades: [[3.9, 6.91], [14.18, 18.1]], legendLeft: false, col: 0, row: 3 },
  { title: 'K1919 basalt (powder)', temps: KBP_TEMPS, series: [KBP_482, KBP_566, KBP_604, KBP_633, KBP_638], gray: KBP_GRAY,
    yMin: 0.706, yMax: 1.118, yMajor: Y_MAJOR_COARSE, yMinorStep: 0.02, yDec: 1, shades: [[3.9, 5.9], [14.69, 18.1]], legendLeft: false, col: 1, row: 3 },
  { title: 'K1919 basalt (slab)', temps: KBS_TEMPS, series: [KBS_509, KBS_585, KBS_681, KBS_771, KBS_807], gray: KBS_GRAY,
    yMin: 0.85, yMax: 1.05, yMajor: Y_MAJOR_FINE, yMinorStep: 0.01, yDec: 2, shades: [[12.5, 18.1]], legendLeft: false, col: 0, row: 4 },
  { title: 'dunite xenolith (powder)', temps: DXP_TEMPS, series: [DXP_494, DXP_549, DXP_582, DXP_616, DXP_647], gray: DXP_GRAY,
    yMin: 0.586, yMax: 1.042, yMajor: Y_MAJOR_COARSE, yMinorStep: 0.02, yDec: 1, shades: [[3.9, 4.76]], legendLeft: false, col: 1, row: 4 },
];

function minorTicks(min: number, max: number, step: number, majors: number[]) {
  const out: number[] = [];
  const start = Math.ceil(min / step - 1e-6);
  const end = Math.floor(max / step + 1e-6);
  for (let k = start; k <= end; k++) {
    const v = k * step;
    if (majors.some((m) => Math.abs(m - v) < step / 10)) continue;
    out.push(v);
  }
  return out;
}

const decorPlugin = {
  id: 'decor',
  afterDatasetsDraw(chart: any, _args: any, opts: any) {
    const { ctx, chartArea: ca, scales } = chart;
    ctx.save();
    ctx.fillStyle = SHADE;
    for (const [a, b] of opts.shades || []) {
      const x0 = Math.max(ca.left, scales.x.getPixelForValue(a));
      const x1 = Math.min(ca.right, scales.x.getPixelForValue(b));
      if (x1 > x0) ctx.fillRect(x0, ca.top, x1 - x0, ca.bottom - ca.top);
    }
    ctx.restore();
  },
  afterDraw(chart: any, _args: any, opts: any) {
    const { ctx, chartArea: ca, scales } = chart;
    ctx.save();
    ctx.strokeStyle = '#000';
    ctx.lineWidth = 1.2;
    ctx.beginPath();
    for (const v of opts.xMinor || []) {
      const px = Math.round(scales.x.getPixelForValue(v)) + 0.5;
      ctx.moveTo(px, ca.bottom);
      ctx.lineTo(px, ca.bottom + 4);
    }
    for (const v of opts.yMinor || []) {
      const py = Math.round(scales.y.getPixelForValue(v)) + 0.5;
      ctx.moveTo(ca.left, py);
      ctx.lineTo(ca.left - 4, py);
    }
    ctx.stroke();
    ctx.lineWidth = 1.6;
    ctx.strokeRect(ca.left, ca.top, ca.right - ca.left, ca.bottom - ca.top);
    ctx.restore();
  },
};

const LEG_W = 332;
const LEG_H = 78;
const LEG_ROWS = [13.3, 36.7, 60.3];

function Legend({ p, left, top }: { p: PanelDef; left: number; top: number }) {
  const B = 1.5;
  const items = [
    ...p.temps.map((t, i) => ({ label: t as any, color: COLORS[i], lw: LW })),
    { label: 'gray', color: GRAY, lw: LW_GRAY },
  ];
  return (
    <div
      style={{
        position: 'absolute', left, top, width: LEG_W, height: LEG_H, boxSizing: 'border-box',
        background: 'rgba(255,255,255,0.8)', border: `${B}px solid rgba(204,204,204,0.8)`, borderRadius: 4,
      }}
    >
      {items.map((it, i) => {
        const col = Math.floor(i / 3);
        const row = i % 3;
        const hx = (col ? 129.7 : 6.4) - B;
        const tx = (col ? 174.5 : 51.2) - B;
        const cy = LEG_ROWS[row] - B;
        return (
          <React.Fragment key={i}>
            <div style={{ position: 'absolute', left: hx, top: cy - it.lw / 2, width: 32, height: it.lw, background: it.color }} />
            <div style={{ position: 'absolute', left: tx, top: cy - 10, height: 20, lineHeight: '20px', font: `16px ${FONT}`, color: '#000', whiteSpace: 'nowrap' }}>
              {it.label === 'gray' ? (
                <span>1 - r<span style={{ fontStyle: 'italic', fontSize: '11px', position: 'relative', top: 3 }}>h</span> (pre-heating)</span>
              ) : it.label}
            </div>
          </React.Fragment>
        );
      })}
    </div>
  );
}

function Panel({ p }: { p: PanelDef }) {
  const ref = useRef<HTMLCanvasElement>(null);
  const axLeft = COL_LEFT[p.col];
  const axTop = ROW_TOP[p.row];
  const cw = Y_AXIS_W + PLOT_W + PAD_R;
  const ch = PAD_T + PLOT_H + X_AXIS_H;
  const isBottom = p.row === 4;

  useEffect(() => {
    const yMajor = p.yMajor.filter((v) => v >= p.yMin - 1e-9 && v <= p.yMax + 1e-9);
    const xMinor = minorTicks(X_MIN, X_MAX, 0.5, X_TICKS);
    const yMinor = minorTicks(p.yMin, p.yMax, p.yMinorStep, yMajor);
    const tickFont = { family: FONT, size: 20 };
    const gridCfg = {
      display: true, drawOnChartArea: false, drawTicks: true, tickLength: 7,
      tickWidth: 1.6, tickColor: '#000', color: '#000', lineWidth: 1.6,
    };
    const datasets: any[] = p.series.map((s, i) => ({
      label: p.temps[i],
      data: WL.map((x, j) => ({ x, y: s[j] })),
      borderColor: COLORS[i],
      backgroundColor: COLORS[i],
      borderWidth: LW,
      pointRadius: 0,
      tension: 0,
      fill: false,
      clip: 0,
      order: 5 - i,
      borderJoinStyle: 'round',
    }));
    datasets.push({
      label: '1 - r_h (pre-heating)',
      data: WL.map((x, j) => ({ x, y: p.gray[j] })),
      borderColor: GRAY,
      backgroundColor: GRAY,
      borderWidth: LW_GRAY,
      pointRadius: 0,
      tension: 0,
      fill: false,
      clip: 0,
      order: 0,
      borderJoinStyle: 'round',
    });
    const chart = new Chart(ref.current as HTMLCanvasElement, {
      type: 'line',
      data: { datasets },
      options: {
        animation: false,
        responsive: false,
        maintainAspectRatio: false,
        devicePixelRatio: 1,
        events: [],
        layout: { padding: { top: PAD_T, right: PAD_R, bottom: 0, left: 0 } },
        plugins: {
          legend: { display: false },
          tooltip: { enabled: false },
          decor: { shades: p.shades, xMinor, yMinor },
        },
        scales: {
          x: {
            type: 'linear', min: X_MIN, max: X_MAX,
            afterBuildTicks: (s: any) => { s.ticks = X_TICKS.map((v) => ({ value: v })); },
            afterFit: (s: any) => { s.height = X_AXIS_H; },
            ticks: {
              display: isBottom, autoSkip: false, maxRotation: 0, minRotation: 0, padding: 5,
              color: '#000', font: tickFont, callback: (v: any) => String(v),
            },
            grid: gridCfg,
            border: { display: false },
          },
          y: {
            type: 'linear', min: p.yMin, max: p.yMax,
            afterBuildTicks: (s: any) => { s.ticks = yMajor.map((v) => ({ value: v })); },
            afterFit: (s: any) => { s.width = Y_AXIS_W; },
            ticks: {
              autoSkip: false, padding: 7, color: '#000', font: tickFont,
              callback: (v: any) => Number(v).toFixed(p.yDec),
            },
            grid: gridCfg,
            border: { display: false },
          },
        },
      } as any,
      plugins: [decorPlugin as any],
    });
    return () => chart.destroy();
  }, []);

  const legLeft = p.legendLeft ? axLeft + 8.5 : axLeft + PLOT_W - 9 - LEG_W;
  const legTop = axTop + PLOT_H - 8 - LEG_H;

  return (
    <>
      <canvas
        ref={ref}
        width={cw}
        height={ch}
        style={{ position: 'absolute', left: axLeft - Y_AXIS_W, top: axTop - PAD_T, width: cw, height: ch }}
      />
      <div
        style={{
          position: 'absolute', left: axLeft + 11.5, top: axTop + 6.5, font: `bold 26px ${FONT}`,
          lineHeight: '29px', whiteSpace: 'pre', color: '#000',
        }}
      >
        {p.title}
      </div>
      <Legend p={p} left={legLeft} top={legTop} />
    </>
  );
}

export default function App() {
  useEffect(() => {
    document.body.style.margin = '0';
  }, []);
  return (
    <div style={{ position: 'absolute', left: 0, top: 0, width: 1242, height: 1583, background: '#fff', overflow: 'hidden' }}>
      {PANELS.map((p, i) => (
        <Panel key={i} p={p} />
      ))}
      <div
        style={{
          position: 'absolute', left: 27 - 200, top: 793 - 18, width: 400, height: 36, lineHeight: '36px',
          textAlign: 'center', font: `29.5px ${FONT}`, color: '#000', transform: 'rotate(-90deg)', whiteSpace: 'nowrap',
        }}
      >
        Calibrated Emissivity
      </div>
      <div
        style={{
          position: 'absolute', left: 621 - 200, top: 1547, width: 400, height: 36, lineHeight: '36px',
          textAlign: 'center', font: `29.5px ${FONT}`, color: '#000', whiteSpace: 'nowrap',
        }}
      >
        Wavelength [µm]
      </div>
    </div>
  );
}
